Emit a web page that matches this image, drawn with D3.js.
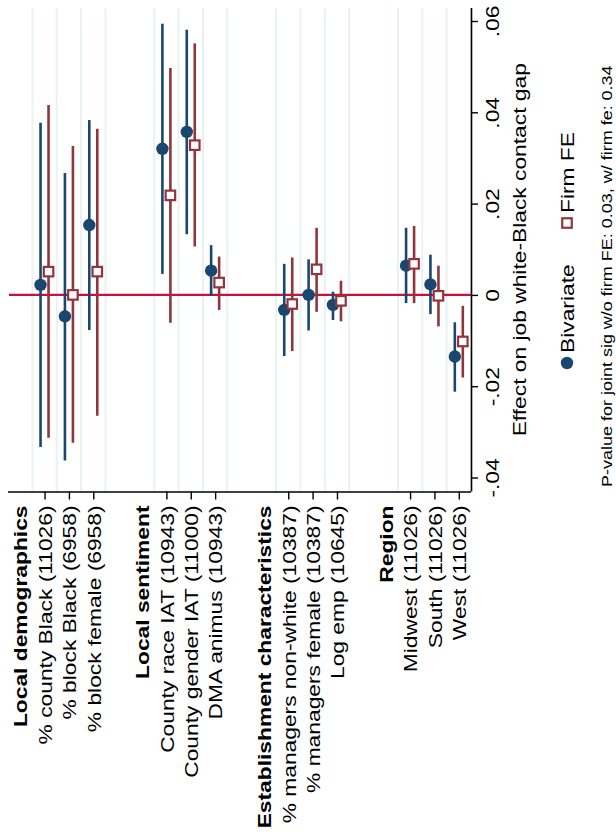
<!DOCTYPE html>
<html>
<head>
<meta charset="utf-8">
<script src="https://cdn.jsdelivr.net/npm/d3@7"></script>
<style>
  html, body { margin: 0; padding: 0; background: #fff; }
  svg { display: block; font-family: "Liberation Sans", Arial, Helvetica, sans-serif; }
</style>
</head>
<body>
<svg id="chart" width="616" height="835"></svg>
<script>
// ---------------- DATA ----------------
const groupNames = ["Local demographics", "Local sentiment", "Establishment characteristics", "Region"];
const groupSizes = [3, 3, 3, 3];
const itemLabels = [
  "% county Black (11026)", "% block Black (6958)", "% block female (6958)",
  "County race IAT (10943)", "County gender IAT (11000)", "DMA animus (10943)",
  "% managers non-white (10387)", "% managers female (10387)", "Log emp (10645)",
  "Midwest (11026)", "South (11026)", "West (11026)"
];
const bivCoef = [0.0022, -0.0047, 0.0153, 0.0320, 0.0357, 0.0053, -0.0033, 0.0000, -0.0022, 0.0064, 0.0023, -0.0135];
const bivLo   = [-0.0333, -0.0363, -0.0077, 0.0046, 0.0133, -0.0002, -0.0134, -0.0078, -0.0055, -0.0018, -0.0042, -0.0212];
const bivHi   = [0.0377, 0.0267, 0.0383, 0.0594, 0.0581, 0.0109, 0.0068, 0.0078, 0.0007, 0.0147, 0.0088, -0.0060];
const feCoef  = [0.0051, 0.0000, 0.0051, 0.0218, 0.0328, 0.0027, -0.0020, 0.0056, -0.0013, 0.0068, -0.0002, -0.0102];
const feLo    = [-0.0313, -0.0324, -0.0265, -0.0061, 0.0106, -0.0033, -0.0123, -0.0037, -0.0058, -0.0018, -0.0069, -0.0181];
const feHi    = [0.0416, 0.0326, 0.0364, 0.0497, 0.0551, 0.0084, 0.0082, 0.0147, 0.0031, 0.0151, 0.0064, -0.0024];
const valueTicks = [-0.04, -0.02, 0, 0.02, 0.04, 0.06];
const valueTickLabels = ["-.04", "-.02", "0", ".02", ".04", ".06"];
const seriesNames = ["Bivariate", "Firm FE"];
const axisTitle = "Effect on job white-Black contact gap";
const noteText = "P-value for joint sig w/o firm FE: 0.03, w/ firm fe: 0.34";

// ---------------- LAYOUT ----------------
const NAVY = "#1a476f", MAROON = "#90353b", ZERO = "#c8103e", GRID = "#e9f1f3";
const FS = 19, SX = 1.2;
const plotL = 8, plotR = 471, plotT = 8, plotB = 491.5;

// Build rows: header, items, spacer between groups
const rows = [];
let k = 0;
groupNames.forEach((g, gi) => {
  rows.push({ id: "h" + gi, type: "header", label: g });
  for (let j = 0; j < groupSizes[gi]; j++) {
    rows.push({ id: "i" + k, type: "item", label: itemLabels[k], idx: k });
    k++;
  }
  if (gi < groupNames.length - 1) rows.push({ id: "s" + gi, type: "spacer" });
});

const x = d3.scalePoint().domain(rows.map(r => r.id)).range([plotL, plotR]).padding(0.5);
const step = x.step();
const y = d3.scaleLinear().domain([-0.04, 0.06]).range([477.5, 21]);
const off = 4;

const svg = d3.select("#chart");

// gridlines (after header and item rows)
svg.append("g").selectAll("line")
  .data(rows.filter(r => r.type !== "spacer"))
  .join("line")
  .attr("x1", r => x(r.id) + step / 2).attr("x2", r => x(r.id) + step / 2)
  .attr("y1", plotT).attr("y2", plotB)
  .attr("stroke", GRID).attr("stroke-width", 2);

// zero line
svg.append("line")
  .attr("x1", plotL + 1).attr("x2", plotR)
  .attr("y1", y(0)).attr("y2", y(0))
  .attr("stroke", ZERO).attr("stroke-width", 2.2);

const items = rows.filter(r => r.type === "item");

// CIs
const ci = svg.append("g");
ci.selectAll("line.b").data(items).join("line").attr("class", "b")
  .attr("x1", r => x(r.id) - off).attr("x2", r => x(r.id) - off)
  .attr("y1", r => y(bivLo[r.idx])).attr("y2", r => y(bivHi[r.idx]))
  .attr("stroke", NAVY).attr("stroke-width", 2.6);
ci.selectAll("line.f").data(items).join("line").attr("class", "f")
  .attr("x1", r => x(r.id) + off).attr("x2", r => x(r.id) + off)
  .attr("y1", r => y(feLo[r.idx])).attr("y2", r => y(feHi[r.idx]))
  .attr("stroke", MAROON).attr("stroke-width", 2.6);

// markers
svg.append("g").selectAll("circle").data(items).join("circle")
  .attr("cx", r => x(r.id) - off).attr("cy", r => y(bivCoef[r.idx]))
  .attr("r", 6.2).attr("fill", NAVY);
const sq = 9.5;
svg.append("g").selectAll("rect").data(items).join("rect")
  .attr("x", r => x(r.id) + off - sq / 2).attr("y", r => y(feCoef[r.idx]) - sq / 2)
  .attr("width", sq).attr("height", sq)
  .attr("fill", "#fff").attr("stroke", MAROON).attr("stroke-width", 2.2);

// Value axis (right)
const yAxis = d3.axisRight(y).tickValues(valueTicks).tickSize(7).tickFormat((d, i) => valueTickLabels[i]);
const ya = svg.append("g").attr("transform", `translate(${plotR},0)`).call(yAxis);
ya.select(".domain").attr("d", `M0.5,${plotT}V${plotB}`).attr("stroke", "#000").attr("stroke-width", 1.6);
ya.selectAll(".tick line").attr("stroke", "#000").attr("stroke-width", 1.4);
ya.selectAll(".tick text")
  .attr("x", null).attr("dy", null)
  .attr("transform", `translate(21,0) rotate(-90) scale(${SX},1)`)
  .attr("text-anchor", "middle").attr("dominant-baseline", "central")
  .attr("font-size", FS).attr("fill", "#000")
  .attr("font-family", '"Liberation Sans", Arial, sans-serif');

// Category axis (bottom)
const xAxis = d3.axisBottom(x).tickValues(items.map(r => r.id)).tickSize(8)
  .tickFormat(id => rows.find(r => r.id === id).label);
const xa = svg.append("g").attr("transform", `translate(0,${plotB})`).call(xAxis);
xa.select(".domain").attr("d", `M${plotL},0.5H${plotR}`).attr("stroke", "#000").attr("stroke-width", 1.6);
xa.selectAll(".tick line").attr("stroke", "#000").attr("stroke-width", 1.4);
xa.selectAll(".tick text")
  .attr("y", null).attr("dy", null)
  .attr("transform", `translate(0,14) rotate(-90) scale(${SX},1)`)
  .attr("text-anchor", "end").attr("dominant-baseline", "central")
  .attr("font-size", FS).attr("fill", "#000")
  .attr("font-family", '"Liberation Sans", Arial, sans-serif');

// Group headers
svg.append("g").selectAll("text").data(rows.filter(r => r.type === "header")).join("text")
  .attr("transform", r => `translate(${x(r.id)},${plotB + 14}) rotate(-90) scale(${SX},1)`)
  .attr("text-anchor", "end").attr("dominant-baseline", "central")
  .attr("font-size", FS).attr("font-weight", "bold")
  .text(r => r.label);

// Axis title
svg.append("text")
  .attr("transform", `translate(519,${(plotT + plotB) / 2}) rotate(-90) scale(${SX},1)`)
  .attr("text-anchor", "middle").attr("dominant-baseline", "central")
  .attr("font-size", FS).text(axisTitle);

// Legend
const lg = svg.append("g");
lg.append("circle").attr("cx", 567).attr("cy", 363).attr("r", 6.2).attr("fill", NAVY);
lg.append("text").attr("transform", `translate(567,353) rotate(-90) scale(${SX},1)`)
  .attr("text-anchor", "start").attr("dominant-baseline", "central")
  .attr("font-size", FS).text(seriesNames[0]);
lg.append("rect").attr("x", 567 - sq / 2).attr("y", 223 - sq / 2).attr("width", sq).attr("height", sq)
  .attr("fill", "#fff").attr("stroke", MAROON).attr("stroke-width", 2.2);
lg.append("text").attr("transform", `translate(567,213) rotate(-90) scale(${SX},1)`)
  .attr("text-anchor", "start").attr("dominant-baseline", "central")
  .attr("font-size", FS).text(seriesNames[1]);

// Note
svg.append("text")
  .attr("transform", `translate(607,487) rotate(-90) scale(${SX},1)`)
  .attr("text-anchor", "start").attr("dominant-baseline", "central")
  .attr("font-size", 15).text(noteText);
</script>
</body>
</html>
